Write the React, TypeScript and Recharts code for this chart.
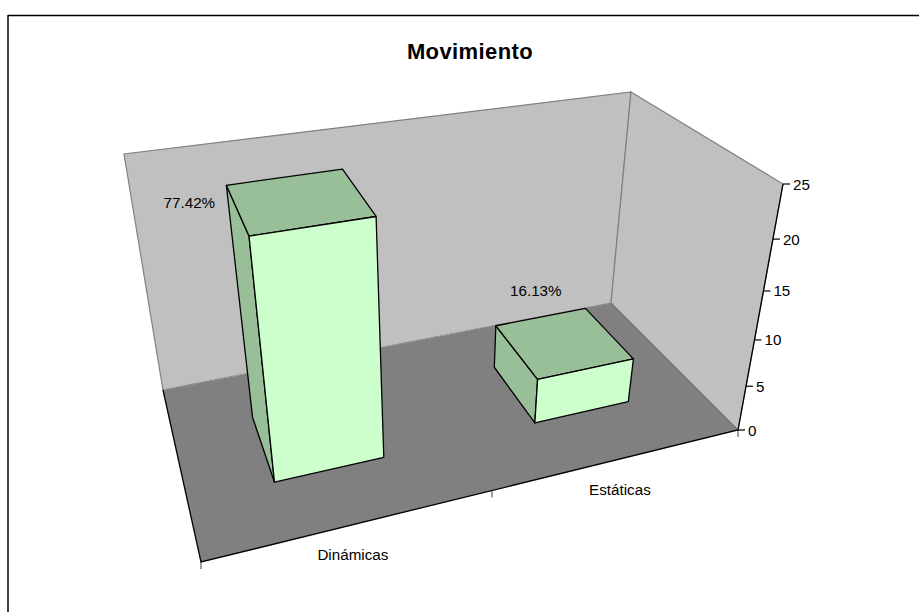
import React from "react";
import { BarChart, Bar, XAxis, YAxis, Customized } from "recharts";

const categories = ["Dinámicas", "Estáticas"];
const seriesValues = [24, 5];
const percentLabels = ["77.42%", "16.13%"];
const valueTicks = [0, 5, 10, 15, 20, 25];

const data = categories.map((name, i) => ({
  name,
  value: seriesValues[i],
  label: percentLabels[i],
}));

const WIDTH = 919;
const HEIGHT = 612;
const MAX_VALUE = 25;
const FONT = '"Liberation Sans", Arial, sans-serif';
const TEXT_SIZE = 15.2;

// flat plot rectangle that recharts scales into, re-projected below
const PLOT_LEFT = 100;
const PLOT_TOP = 100;
const PLOT_W = WIDTH - 200;
const PLOT_H = HEIGHT - 200;

// bar depth inside the floor, 0 = front edge, 1 = back wall
const DEPTH_FRONT = 0.3;
const DEPTH_BACK = 0.7;

type Pt = [number, number];

// box corners on screen
const FLOOR_FL: Pt = [201, 562];
const FLOOR_FR: Pt = [738, 430];
const FLOOR_BR: Pt = [611, 303];
const FLOOR_BL: Pt = [163, 390];
const TOP_FR: Pt = [783, 184];
const TOP_BR: Pt = [631, 92];
const TOP_BL: Pt = [124, 154];
// perspective is fitted a little off the corners so the bars land right
const FIT_FR: Pt = [785, 184];
const FIT_BR: Pt = [633, 92];

function buildCamera() {
  const [x0, y0] = FLOOR_FL;
  const [x1, y1] = FLOOR_FR;
  const [x2, y2] = FLOOR_BR;
  const [x3, y3] = FLOOR_BL;
  const dx1 = x1 - x2;
  const dx2 = x3 - x2;
  const sx = x0 - x1 + x2 - x3;
  const dy1 = y1 - y2;
  const dy2 = y3 - y2;
  const sy = y0 - y1 + y2 - y3;
  const det = dx1 * dy2 - dx2 * dy1;
  const g = (sx * dy2 - dx2 * sy) / det;
  const h = (dx1 * sy - sx * dy1) / det;
  const pu = [x1 - x0 + g * x1, y1 - y0 + g * y1, g];
  const pv = [x3 - x0 + h * x3, y3 - y0 + h * y3, h];
  const pt = [x0, y0, 1];
  // the vertical column comes from the two top corners of the right wall
  const alpha = (h * FIT_BR[0] - pv[0]) / (FIT_FR[0] - FIT_BR[0]);
  const py = [0, 1, 2].map((i) => {
    const a = i === 0 ? FIT_FR[0] : i === 1 ? FIT_FR[1] : 1;
    return alpha * a - pu[i] - pt[i];
  });
  return { pu, pv, py, pt };
}

const cam = buildCamera();

// u: 0..1 along the category axis, t: 0..1 of the value axis, v: 0..1 in depth
function project(u: number, t: number, v: number): Pt {
  const c = [0, 1, 2].map((i) => u * cam.pu[i] + t * cam.py[i] + v * cam.pv[i] + cam.pt[i]);
  return [c[0] / c[2], c[1] / c[2]];
}

const toPoints = (pts: Pt[]) => pts.map((p) => p.join(",")).join(" ");

function Box(props: any) {
  const { x, y, width, height, index, payload } = props;
  const u0 = (x - PLOT_LEFT) / PLOT_W;
  const u1 = (x + width - PLOT_LEFT) / PLOT_W;
  const t0 = (PLOT_TOP + PLOT_H - (y + height)) / PLOT_H;
  const t1 = (PLOT_TOP + PLOT_H - y) / PLOT_H;

  const frontBL = project(u0, t0, DEPTH_FRONT);
  const frontBR = project(u1, t0, DEPTH_FRONT);
  const frontTL = project(u0, t1, DEPTH_FRONT);
  const frontTR = project(u1, t1, DEPTH_FRONT);
  const backBL = project(u0, t0, DEPTH_BACK);
  const backTL = project(u0, t1, DEPTH_BACK);
  const backTR = project(u1, t1, DEPTH_BACK);

  // labels were dragged by hand in the original, so each has its own nudge
  const nudge: Pt = index === 0 ? [-37, 17] : [40, -35];

  const edge = { stroke: "#000", strokeWidth: 1.3, strokeLinejoin: "round" as const };
  return (
    <g>
      <polygon points={toPoints([backBL, frontBL, frontTL, backTL])} fill="#99BF99" {...edge} />
      <polygon points={toPoints([frontTL, frontTR, backTR, backTL])} fill="#99BF99" {...edge} />
      <polygon points={toPoints([frontBL, frontBR, frontTR, frontTL])} fill="#CCFFCC" {...edge} />
      <text
        x={backTL[0] + nudge[0]}
        y={backTL[1] + nudge[1]}
        textAnchor="middle"
        dominantBaseline="central"
        fontSize={TEXT_SIZE}
        fontFamily={FONT}
        fill="#000"
      >
        {payload.label}
      </text>
    </g>
  );
}

function Room() {
  const boundaries = categories.map((_, i) => i / categories.length).concat(1);
  return (
    <g>
      <line x1={8} y1={15.5} x2={WIDTH} y2={15.5} stroke="#000" strokeWidth={1.5} />
      <line x1={8} y1={15} x2={8} y2={HEIGHT} stroke="#000" strokeWidth={1.5} />
      <text x={470} y={51} textAnchor="middle" dominantBaseline="central" fontSize={22} letterSpacing={0.4} fontWeight="bold" fontFamily={FONT} fill="#000">
        Movimiento
      </text>
      <polygon points={toPoints([FLOOR_BL, FLOOR_BR, TOP_BR, TOP_BL])} fill="#C0C0C0" stroke="#808080" strokeWidth={1.2} />
      <polygon points={toPoints([FLOOR_BR, FLOOR_FR, TOP_FR, TOP_BR])} fill="#C0C0C0" stroke="#808080" strokeWidth={1.2} />
      <polygon points={toPoints([FLOOR_FL, FLOOR_FR, FLOOR_BR, FLOOR_BL])} fill="#808080" />
      <line x1={FLOOR_BL[0]} y1={FLOOR_BL[1]} x2={FLOOR_BR[0]} y2={FLOOR_BR[1]} stroke="#A0A0A0" strokeWidth={1} strokeDasharray="3 2" />
      <line x1={FLOOR_BR[0]} y1={FLOOR_BR[1]} x2={FLOOR_FR[0]} y2={FLOOR_FR[1]} stroke="#6e6e6e" strokeWidth={1} />
      <polyline points={toPoints([FLOOR_BL, FLOOR_FL, FLOOR_FR, TOP_FR])} fill="none" stroke="#000" strokeWidth={1.3} />
      {boundaries.map((u) => {
        const p = project(u, 0, 0);
        return <line key={u} x1={p[0]} y1={p[1]} x2={p[0]} y2={p[1] + 7} stroke="#404040" strokeWidth={1} />;
      })}
    </g>
  );
}

function CategoryTick(props: any) {
  const { x, payload } = props;
  const p = project((x - PLOT_LEFT) / PLOT_W, 0, 0);
  return (
    <text x={p[0]} y={p[1] + 30} textAnchor="middle" dominantBaseline="central" fontSize={TEXT_SIZE} fontFamily={FONT} fill="#000">
      {payload.value}
    </text>
  );
}

function ValueTick(props: any) {
  const { payload } = props;
  const y = project(1, payload.value / MAX_VALUE, 0)[1];
  // start the tick on the drawn axis line
  const x = FLOOR_FR[0] + ((y - FLOOR_FR[1]) / (TOP_FR[1] - FLOOR_FR[1])) * (TOP_FR[0] - FLOOR_FR[0]);
  return (
    <g>
      <line x1={x} y1={y} x2={x + 7} y2={y} stroke="#000" strokeWidth={1.2} />
      <text x={x + 10} y={y} textAnchor="start" dominantBaseline="central" fontSize={TEXT_SIZE} fontFamily={FONT} fill="#000">
        {payload.value}
      </text>
    </g>
  );
}

export default function App() {
  return (
    <div style={{ position: "absolute", left: 0, top: 0, width: WIDTH, height: HEIGHT, background: "#fff" }}>
      <BarChart
        width={WIDTH}
        height={HEIGHT}
        data={data}
        margin={{ top: PLOT_TOP, right: 100, bottom: 99, left: PLOT_LEFT - 1 }}
        barCategoryGap="30%"
      >
        <Customized component={Room} />
        <XAxis dataKey="name" height={1} axisLine={false} tickLine={false} tick={CategoryTick} interval={0} />
        <YAxis
          width={1}
          domain={[0, MAX_VALUE]}
          ticks={valueTicks}
          axisLine={false}
          tickLine={false}
          tick={ValueTick}
          interval={0}
        />
        <Bar dataKey="value" shape={Box} isAnimationActive={false} />
      </BarChart>
    </div>
  );
}
